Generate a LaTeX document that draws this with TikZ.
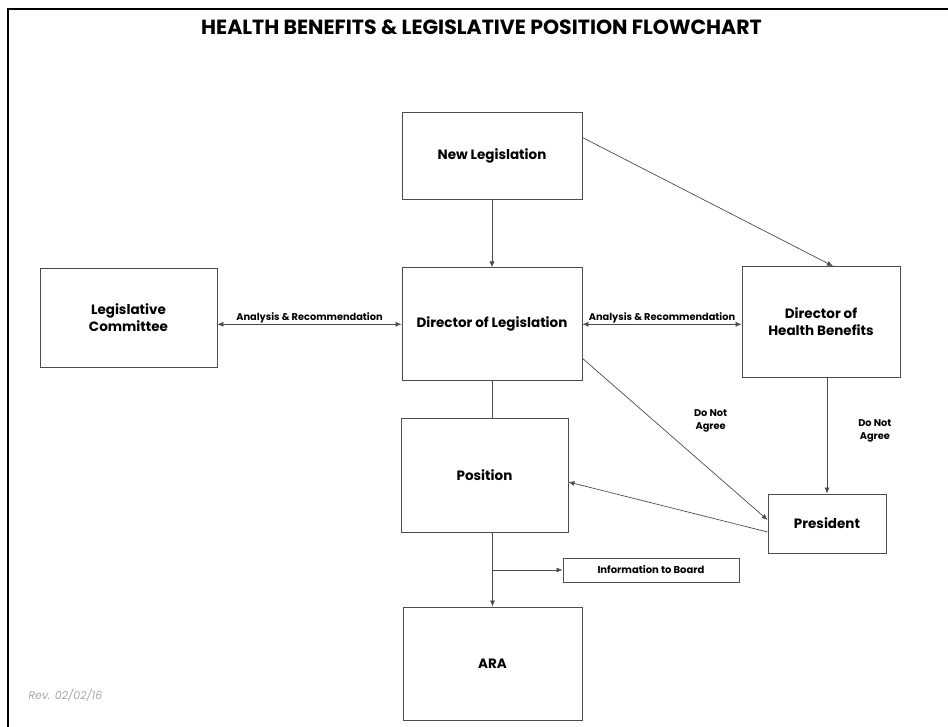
\documentclass[tikz,border=0pt]{standalone}
\usepackage{fontspec}
\setmainfont{Poppins}
\usetikzlibrary{arrows.meta, positioning}

\begin{document}
\begin{tikzpicture}[x=1pt, y=-1pt, >={Latex[length=6pt, width=5pt]},
  box/.style={draw=black!70, line width=0.8pt, align=center, inner sep=0pt, font=\fontsize{13.5}{17}\selectfont\bfseries},
  note/.style={align=center, inner sep=1pt, font=\fontsize{9.8}{12.5}\selectfont\bfseries},
  link/.style={draw=black!70, line width=0.7pt}]
\useasboundingbox (0,0) rectangle (948,727);
% Frame and title
\draw[line width=2.5pt] (8,727) -- (8,9) -- (948,9);
\node (title) at (481.5,27) {\fontsize{20.5}{22}\selectfont\bfseries HEALTH BENEFITS \& LEGISLATIVE POSITION FLOWCHART};

% Nodes
\node[box, minimum width=180pt, minimum height=87pt] (newleg) at (492,155.5) {New Legislation};
\node[box, minimum width=180pt, minimum height=113pt, below=68pt of newleg] (dirleg) {Director of Legislation};
\node[box, minimum width=177pt, minimum height=99pt] (legcom) at (128.5,317.5) {Legislative\\Committee};
\node[box, minimum width=158pt, minimum height=111pt] (dirhb) at (821,322) {Director of\\Health Benefits};
\node[box, minimum width=167pt, minimum height=114pt] (position) at (484.5,475) {Position};
\node[box, minimum width=118pt, minimum height=59pt] (president) at (827,523.5) {President};
\node[box, minimum width=176pt, minimum height=24pt, font=\fontsize{10}{12}\selectfont\bfseries] (info) at (651,570) {Information to Board};
\node[box, minimum width=179pt, minimum height=113pt] (ara) at (492.5,663.5) {ARA};
\node[text=black!35, font=\fontsize{11}{13}\selectfont\itshape, anchor=west] (rev) at (25,695) {Rev. 02/02/16};

% Edges
\draw[link, ->] (newleg) -- (dirleg);
\draw[link, <->] (legcom.east |- dirleg.west) -- node[note, above]{Analysis \& Recommendation} (dirleg.west);
\draw[link, <->] (dirleg.east) -- node[note, above]{Analysis \& Recommendation} (dirleg.east -| dirhb.west);
\draw[link, ->] ([yshift=18pt]newleg.east) -- ([xshift=12pt]dirhb.north);
\draw[link, ->] ([yshift=-34pt]dirleg.east) -- node[note, pos=0.45, anchor=west, xshift=27pt, yshift=10pt]{Do Not\\Agree} ([yshift=3.5pt]president.west);
\draw[link, ->] (president.north |- dirhb.south) -- node[note, midway, right=30pt, yshift=5pt]{Do Not\\Agree} (president.north);
\draw[link, ->] ([yshift=-8.5pt]president.west) -- ([yshift=-7pt]position.east);
\draw[link] (dirleg.south) -- (dirleg.south |- position.north);
\draw[link, ->] (ara.north |- position.south) -- (ara.north);
\draw[link, ->] (ara.north |- info.west) -- (info.west);
\end{tikzpicture}
\end{document}
